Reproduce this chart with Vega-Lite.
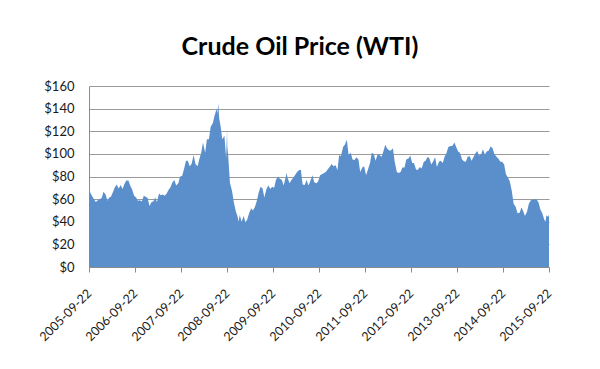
{
  "$schema": "https://vega.github.io/schema/vega-lite/v6.json",
  "width": 460,
  "height": 181,
  "autosize": "none",
  "padding": {"left": 89, "top": 86, "right": 51, "bottom": 102},
  "background": "white",
  "title": {
    "text": "Crude Oil Price (WTI)",
    "font": "Lato",
    "fontSize": 25,
    "fontWeight": "bold",
    "color": "#000000",
    "anchor": "middle",
    "baseline": "alphabetic",
    "offset": 0,
    "dx": -19
  },
  "data": {
    "values": [
      {"date": "2005-09-22", "price": 66.5},
      {"date": "2005-10-01", "price": 66},
      {"date": "2005-10-15", "price": 63},
      {"date": "2005-11-01", "price": 60},
      {"date": "2005-11-15", "price": 57.5},
      {"date": "2005-12-01", "price": 59},
      {"date": "2005-12-15", "price": 60},
      {"date": "2006-01-01", "price": 61},
      {"date": "2006-01-15", "price": 66.5},
      {"date": "2006-02-01", "price": 64},
      {"date": "2006-02-15", "price": 58.5},
      {"date": "2006-03-01", "price": 61.5},
      {"date": "2006-03-15", "price": 62},
      {"date": "2006-04-01", "price": 66.5},
      {"date": "2006-04-15", "price": 70.5},
      {"date": "2006-05-01", "price": 73},
      {"date": "2006-05-15", "price": 69.5},
      {"date": "2006-06-01", "price": 72.5},
      {"date": "2006-06-15", "price": 69},
      {"date": "2006-07-01", "price": 73.5},
      {"date": "2006-07-15", "price": 76.5},
      {"date": "2006-08-01", "price": 76.5},
      {"date": "2006-08-15", "price": 72},
      {"date": "2006-09-01", "price": 68},
      {"date": "2006-09-15", "price": 63},
      {"date": "2006-10-01", "price": 61.5},
      {"date": "2006-10-15", "price": 58.5},
      {"date": "2006-11-01", "price": 59},
      {"date": "2006-11-15", "price": 58},
      {"date": "2006-12-01", "price": 63},
      {"date": "2006-12-15", "price": 62},
      {"date": "2007-01-01", "price": 61},
      {"date": "2007-01-15", "price": 54},
      {"date": "2007-02-01", "price": 57.5},
      {"date": "2007-02-15", "price": 58},
      {"date": "2007-03-01", "price": 61.5},
      {"date": "2007-03-15", "price": 57.5},
      {"date": "2007-04-01", "price": 65},
      {"date": "2007-04-15", "price": 63.5},
      {"date": "2007-05-01", "price": 64},
      {"date": "2007-05-15", "price": 63},
      {"date": "2007-06-01", "price": 65},
      {"date": "2007-06-15", "price": 68},
      {"date": "2007-07-01", "price": 70.5},
      {"date": "2007-07-15", "price": 74.5},
      {"date": "2007-08-01", "price": 77},
      {"date": "2007-08-15", "price": 72},
      {"date": "2007-09-01", "price": 74},
      {"date": "2007-09-15", "price": 80},
      {"date": "2007-10-01", "price": 80.5},
      {"date": "2007-10-15", "price": 86},
      {"date": "2007-11-01", "price": 94},
      {"date": "2007-11-15", "price": 94},
      {"date": "2007-12-01", "price": 89},
      {"date": "2007-12-15", "price": 91},
      {"date": "2008-01-01", "price": 99},
      {"date": "2008-01-15", "price": 91},
      {"date": "2008-02-01", "price": 89},
      {"date": "2008-02-15", "price": 95.5},
      {"date": "2008-03-01", "price": 101},
      {"date": "2008-03-15", "price": 110},
      {"date": "2008-04-01", "price": 101},
      {"date": "2008-04-15", "price": 113},
      {"date": "2008-05-01", "price": 113},
      {"date": "2008-05-15", "price": 124},
      {"date": "2008-06-01", "price": 127},
      {"date": "2008-06-15", "price": 134},
      {"date": "2008-07-01", "price": 140},
      {"date": "2008-07-08", "price": 136},
      {"date": "2008-07-14", "price": 145},
      {"date": "2008-07-22", "price": 131},
      {"date": "2008-08-01", "price": 125},
      {"date": "2008-08-15", "price": 113},
      {"date": "2008-09-01", "price": 116},
      {"date": "2008-09-15", "price": 96},
      {"date": "2008-09-22", "price": 121},
      {"date": "2008-09-24", "price": 106},
      {"date": "2008-10-01", "price": 98.5},
      {"date": "2008-10-15", "price": 74.5},
      {"date": "2008-11-01", "price": 67},
      {"date": "2008-11-15", "price": 57},
      {"date": "2008-12-01", "price": 49},
      {"date": "2008-12-15", "price": 44.5},
      {"date": "2008-12-22", "price": 40},
      {"date": "2009-01-01", "price": 46},
      {"date": "2009-01-15", "price": 40},
      {"date": "2009-02-01", "price": 45},
      {"date": "2009-02-15", "price": 39.5},
      {"date": "2009-03-01", "price": 42},
      {"date": "2009-03-15", "price": 47},
      {"date": "2009-04-01", "price": 52},
      {"date": "2009-04-15", "price": 50},
      {"date": "2009-05-01", "price": 53},
      {"date": "2009-05-15", "price": 58},
      {"date": "2009-06-01", "price": 66},
      {"date": "2009-06-15", "price": 71},
      {"date": "2009-07-01", "price": 69.5},
      {"date": "2009-07-15", "price": 61.5},
      {"date": "2009-08-01", "price": 69},
      {"date": "2009-08-15", "price": 72},
      {"date": "2009-09-01", "price": 69},
      {"date": "2009-09-15", "price": 71},
      {"date": "2009-10-01", "price": 70},
      {"date": "2009-10-15", "price": 77},
      {"date": "2009-11-01", "price": 80},
      {"date": "2009-11-15", "price": 78},
      {"date": "2009-12-01", "price": 77},
      {"date": "2009-12-15", "price": 72},
      {"date": "2010-01-01", "price": 79.5},
      {"date": "2010-01-08", "price": 83},
      {"date": "2010-01-15", "price": 79},
      {"date": "2010-02-01", "price": 74},
      {"date": "2010-02-15", "price": 77},
      {"date": "2010-03-01", "price": 79},
      {"date": "2010-03-15", "price": 81},
      {"date": "2010-04-01", "price": 84},
      {"date": "2010-04-15", "price": 85.5},
      {"date": "2010-05-01", "price": 86},
      {"date": "2010-05-15", "price": 73},
      {"date": "2010-06-01", "price": 72.5},
      {"date": "2010-06-15", "price": 77},
      {"date": "2010-07-01", "price": 72},
      {"date": "2010-07-15", "price": 76},
      {"date": "2010-08-01", "price": 81},
      {"date": "2010-08-15", "price": 75},
      {"date": "2010-09-01", "price": 74},
      {"date": "2010-09-15", "price": 75.5},
      {"date": "2010-10-01", "price": 81},
      {"date": "2010-10-15", "price": 82},
      {"date": "2010-11-01", "price": 83},
      {"date": "2010-11-15", "price": 84},
      {"date": "2010-12-01", "price": 86.5},
      {"date": "2010-12-15", "price": 88.5},
      {"date": "2011-01-01", "price": 91},
      {"date": "2011-01-15", "price": 89},
      {"date": "2011-02-01", "price": 90},
      {"date": "2011-02-15", "price": 85.5},
      {"date": "2011-03-01", "price": 99},
      {"date": "2011-03-15", "price": 98},
      {"date": "2011-04-01", "price": 106},
      {"date": "2011-04-15", "price": 108},
      {"date": "2011-05-01", "price": 112.5},
      {"date": "2011-05-15", "price": 99},
      {"date": "2011-06-01", "price": 101},
      {"date": "2011-06-15", "price": 95},
      {"date": "2011-07-01", "price": 94.5},
      {"date": "2011-07-15", "price": 97},
      {"date": "2011-08-01", "price": 95},
      {"date": "2011-08-15", "price": 84},
      {"date": "2011-09-01", "price": 88},
      {"date": "2011-09-15", "price": 89},
      {"date": "2011-10-01", "price": 81},
      {"date": "2011-10-15", "price": 86},
      {"date": "2011-11-01", "price": 92},
      {"date": "2011-11-15", "price": 101},
      {"date": "2011-12-01", "price": 100},
      {"date": "2011-12-15", "price": 94},
      {"date": "2012-01-01", "price": 100},
      {"date": "2012-01-15", "price": 99},
      {"date": "2012-02-01", "price": 97.5},
      {"date": "2012-02-15", "price": 102},
      {"date": "2012-03-01", "price": 108},
      {"date": "2012-03-15", "price": 105},
      {"date": "2012-04-01", "price": 103},
      {"date": "2012-04-15", "price": 103},
      {"date": "2012-05-01", "price": 105},
      {"date": "2012-05-15", "price": 93},
      {"date": "2012-06-01", "price": 84},
      {"date": "2012-06-15", "price": 83},
      {"date": "2012-07-01", "price": 84},
      {"date": "2012-07-15", "price": 88},
      {"date": "2012-08-01", "price": 88},
      {"date": "2012-08-15", "price": 95},
      {"date": "2012-09-01", "price": 96},
      {"date": "2012-09-15", "price": 98.5},
      {"date": "2012-10-01", "price": 92},
      {"date": "2012-10-15", "price": 92},
      {"date": "2012-11-01", "price": 86},
      {"date": "2012-11-15", "price": 86},
      {"date": "2012-12-01", "price": 88.5},
      {"date": "2012-12-15", "price": 87},
      {"date": "2013-01-01", "price": 93},
      {"date": "2013-01-15", "price": 94},
      {"date": "2013-02-01", "price": 97.5},
      {"date": "2013-02-15", "price": 96},
      {"date": "2013-03-01", "price": 90.5},
      {"date": "2013-03-15", "price": 93},
      {"date": "2013-04-01", "price": 97},
      {"date": "2013-04-15", "price": 88.5},
      {"date": "2013-05-01", "price": 93},
      {"date": "2013-05-15", "price": 94},
      {"date": "2013-06-01", "price": 92},
      {"date": "2013-06-15", "price": 97.5},
      {"date": "2013-07-01", "price": 101},
      {"date": "2013-07-15", "price": 106},
      {"date": "2013-08-01", "price": 107},
      {"date": "2013-08-15", "price": 107},
      {"date": "2013-09-01", "price": 110},
      {"date": "2013-09-15", "price": 106},
      {"date": "2013-10-01", "price": 102},
      {"date": "2013-10-15", "price": 101},
      {"date": "2013-11-01", "price": 95},
      {"date": "2013-11-15", "price": 93.5},
      {"date": "2013-12-01", "price": 93},
      {"date": "2013-12-15", "price": 97.5},
      {"date": "2014-01-01", "price": 98},
      {"date": "2014-01-15", "price": 94},
      {"date": "2014-02-01", "price": 97.5},
      {"date": "2014-02-15", "price": 100.5},
      {"date": "2014-03-01", "price": 102.5},
      {"date": "2014-03-15", "price": 98.5},
      {"date": "2014-04-01", "price": 99.5},
      {"date": "2014-04-15", "price": 104},
      {"date": "2014-05-01", "price": 99.5},
      {"date": "2014-05-15", "price": 102},
      {"date": "2014-06-01", "price": 103},
      {"date": "2014-06-15", "price": 106.5},
      {"date": "2014-07-01", "price": 105},
      {"date": "2014-07-15", "price": 100},
      {"date": "2014-08-01", "price": 97.5},
      {"date": "2014-08-15", "price": 96},
      {"date": "2014-09-01", "price": 93},
      {"date": "2014-09-15", "price": 93},
      {"date": "2014-10-01", "price": 90.5},
      {"date": "2014-10-15", "price": 82},
      {"date": "2014-11-01", "price": 79},
      {"date": "2014-11-15", "price": 75.5},
      {"date": "2014-12-01", "price": 67},
      {"date": "2014-12-15", "price": 56},
      {"date": "2015-01-01", "price": 53},
      {"date": "2015-01-15", "price": 47.5},
      {"date": "2015-02-01", "price": 48},
      {"date": "2015-02-15", "price": 52.5},
      {"date": "2015-03-01", "price": 49.5},
      {"date": "2015-03-15", "price": 45},
      {"date": "2015-04-01", "price": 49},
      {"date": "2015-04-15", "price": 56},
      {"date": "2015-05-01", "price": 59},
      {"date": "2015-05-15", "price": 59.5},
      {"date": "2015-06-01", "price": 60},
      {"date": "2015-06-15", "price": 60},
      {"date": "2015-07-01", "price": 57},
      {"date": "2015-07-15", "price": 51},
      {"date": "2015-08-01", "price": 47},
      {"date": "2015-08-15", "price": 42},
      {"date": "2015-08-25", "price": 40},
      {"date": "2015-09-01", "price": 45.5},
      {"date": "2015-09-15", "price": 44.5},
      {"date": "2015-09-22", "price": 46.5}
    ]
  },
  "mark": {"type": "area", "color": "#5b8fcb", "interpolate": "linear"},
  "encoding": {
    "x": {
      "field": "date",
      "type": "temporal",
      "scale": {
        "type": "utc",
        "domain": [
          {"year": 2005, "month": 9, "date": 22, "utc": true},
          {"year": 2015, "month": 9, "date": 22, "utc": true}
        ],
        "nice": false
      },
      "axis": {
        "title": null,
        "values": [
          {"year": 2005, "month": 9, "date": 22, "utc": true},
          {"year": 2006, "month": 9, "date": 22, "utc": true},
          {"year": 2007, "month": 9, "date": 22, "utc": true},
          {"year": 2008, "month": 9, "date": 22, "utc": true},
          {"year": 2009, "month": 9, "date": 22, "utc": true},
          {"year": 2010, "month": 9, "date": 22, "utc": true},
          {"year": 2011, "month": 9, "date": 22, "utc": true},
          {"year": 2012, "month": 9, "date": 22, "utc": true},
          {"year": 2013, "month": 9, "date": 22, "utc": true},
          {"year": 2014, "month": 9, "date": 22, "utc": true},
          {"year": 2015, "month": 9, "date": 22, "utc": true}
        ],
        "format": "%Y-%m-%d",
        "labelAngle": -45,
        "labelAlign": "right",
        "labelBaseline": "middle",
        "labelFont": "Lato",
        "labelFontSize": 12.5,
        "labelColor": "#1a1a1a",
        "labelPadding": 19,
        "labelOverlap": false,
        "labelFlush": false,
        "grid": false,
        "ticks": true,
        "tickSize": 5,
        "tickColor": "#8c8c8c",
        "domainColor": "#8c8c8c",
        "domainWidth": 1
      }
    },
    "y": {
      "field": "price",
      "type": "quantitative",
      "scale": {"domain": [0, 160], "nice": false, "zero": true},
      "axis": {
        "title": null,
        "values": [0, 20, 40, 60, 80, 100, 120, 140, 160],
        "format": "$d",
        "labelFont": "Lato",
        "labelFontSize": 13,
        "labelColor": "#1a1a1a",
        "labelPadding": 15,
        "ticks": false,
        "grid": true,
        "gridColor": "#9a9a9a",
        "gridWidth": 1,
        "domainColor": "#8c8c8c",
        "domainWidth": 1
      }
    }
  },
  "config": {
    "view": {"stroke": null}
  }
}
